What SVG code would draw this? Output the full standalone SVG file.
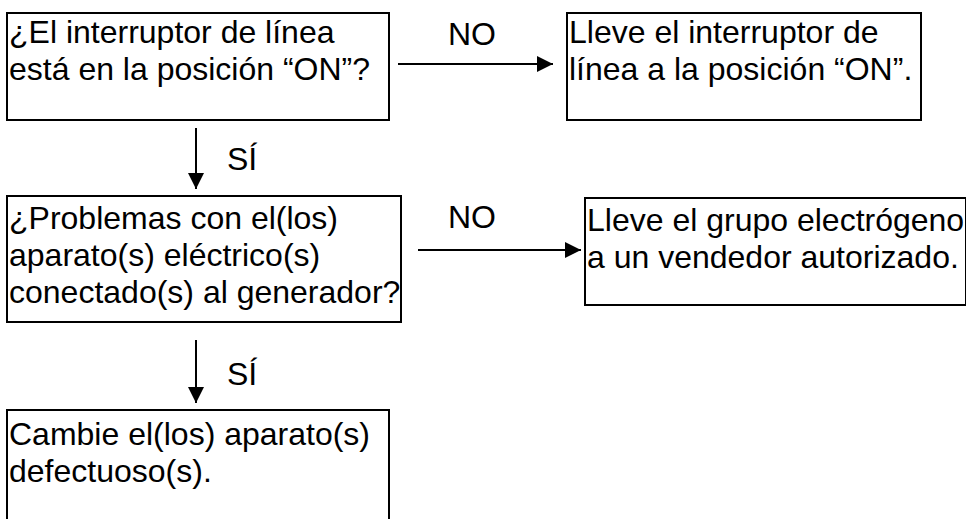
<svg xmlns="http://www.w3.org/2000/svg" width="966" height="519" viewBox="0 0 966 519">
<style>
.box{fill:#fff;stroke:#000;stroke-width:2}
.t{font-family:"Liberation Sans",Arial,sans-serif;font-size:32px;fill:#000}
.c{stroke:#000;stroke-width:2;fill:none}
</style>
<defs>
<marker id="ah" markerWidth="16" markerHeight="16" refX="16" refY="8" orient="auto" markerUnits="userSpaceOnUse">
<path d="M0,0 L16,8 L0,16 Z" fill="#000"/>
</marker>
</defs>
<rect width="966" height="519" fill="#fff"/>
<g id="n1"><rect class="box" x="7" y="13" width="382" height="107"/>
<text class="t" x="9" y="43">¿El interruptor de línea</text>
<text class="t" x="9" y="80">está en la posición “ON”?</text></g>
<g id="n2"><rect class="box" x="567" y="13" width="354" height="107"/>
<text class="t" x="569" y="43">Lleve el interruptor de</text>
<text class="t" x="569" y="80">línea a la posición “ON”.</text></g>
<g id="n3"><rect class="box" x="7" y="196" width="394" height="126"/>
<text class="t" x="9" y="229">¿Problemas con el(los)</text>
<text class="t" x="9" y="266">aparato(s) eléctrico(s)</text>
<text class="t" x="9" y="303">conectado(s) al generador?</text></g>
<g id="n4"><rect class="box" x="585" y="198" width="381" height="107"/>
<text class="t" x="587" y="231">Lleve el grupo electrógeno</text>
<text class="t" x="587" y="268">a un vendedor autorizado.</text></g>
<g id="n5"><rect class="box" x="7" y="410" width="382" height="120"/>
<text class="t" x="9" y="445">Cambie el(los) aparato(s)</text>
<text class="t" x="9" y="482">defectuoso(s).</text></g>
<g id="connectors">
<line class="c" x1="398" y1="64" x2="553" y2="64" marker-end="url(#ah)"/>
<line class="c" x1="196" y1="128" x2="196" y2="189" marker-end="url(#ah)"/>
<line class="c" x1="418" y1="250" x2="581" y2="250" marker-end="url(#ah)"/>
<line class="c" x1="196" y1="340" x2="196" y2="403" marker-end="url(#ah)"/>
</g>
<g id="labels">
<text class="t" x="448" y="45">NO</text>
<text class="t" x="227" y="170">SÍ</text>
<text class="t" x="448" y="228">NO</text>
<text class="t" x="227" y="385">SÍ</text>
</g>
</svg>
